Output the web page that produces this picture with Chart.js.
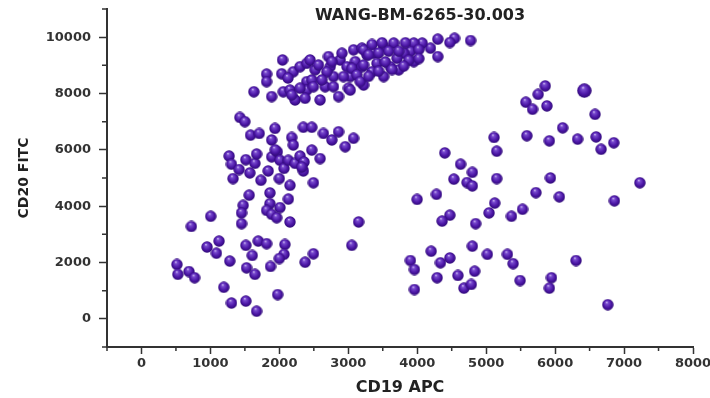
<!DOCTYPE html>
<html>
<head>
<meta charset="utf-8">
<script src="https://cdn.jsdelivr.net/npm/chart.js@4/dist/chart.umd.min.js"></script>
<style>
  html, body { margin: 0; padding: 0; background: #fff; }
  #wrap { width: 710px; height: 398px; position: relative; }
</style>
</head>
<body>
<div id="wrap"><canvas id="cd-chart"></canvas></div>
<script>
// values: [CD19 APC, CD20 FITC]
const upperCluster = [
  [2046, 9190], [1815, 8690], [1815, 8420], [1630, 8060], [1888, 7890], [2033, 8700],
  [2057, 8060], [2154, 8120], [2227, 7770], [2202, 8770], [2125, 8550], [2300, 8950],
  [2397, 9070], [2445, 9190], [2518, 8840], [2397, 8420], [2470, 8480], [2397, 8120],
  [2494, 8240], [2591, 7770], [2664, 8240], [2712, 9310], [2737, 8950], [2785, 8600],
  [2858, 7890], [2882, 9190], [2907, 9430], [2980, 8950], [3002, 8190], [3076, 9550],
  [3028, 8600], [3100, 9130], [2785, 8240], [2567, 9010], [3198, 9610], [3270, 9370],
  [2761, 9130], [2688, 8770], [3052, 8890], [3198, 8950], [2616, 8480], [2930, 8600],
  [3124, 8660], [3222, 8300], [2179, 7950], [2373, 7830], [2300, 8190],
  [4774, 9880], [4541, 9960], [4473, 9810], [4298, 9930], [4298, 9310], [4192, 9610],
  [4071, 9790], [3950, 9790], [3901, 9490], [3950, 9130], [3804, 9430], [3707, 9250],
  [3731, 8840], [3659, 9790], [3513, 9670], [3513, 8600], [3610, 8950], [3367, 9430],
  [3416, 9070], [3343, 8770], [3222, 9550], [3222, 9010], [3173, 8420], [3028, 8120],
  [3343, 9740], [3489, 9800], [3828, 9800], [3294, 9380], [3440, 9440], [3586, 9500],
  [3731, 9500], [4023, 9560], [3537, 9120], [3877, 9180], [4023, 9240], [3440, 8790],
  [3634, 8850], [3804, 8970], [3294, 8610]
];

const middleCluster = [
  [1427, 7150], [1499, 7000], [1582, 6520], [1708, 6580], [1936, 6760], [1888, 6350],
  [2179, 6440], [2202, 6170], [2348, 6800], [2470, 6800], [2639, 6580], [2858, 6640],
  [2761, 6350], [2955, 6110], [3076, 6410], [2470, 5990], [2591, 5690], [1271, 5780],
  [1305, 5490], [1416, 5300], [1514, 5650], [1645, 5520], [1670, 5850], [1572, 5180],
  [1328, 4980], [1732, 4920], [1838, 5250], [1888, 5750], [1970, 5930], [2009, 5630],
  [2067, 5340], [1999, 4980], [2154, 4740], [2130, 5630], [2227, 5520], [2300, 5780],
  [2358, 5570], [2348, 5250], [2324, 5390], [2494, 4830], [1562, 4390], [1863, 4470],
  [2130, 4250], [1940, 6000]
];

const lowerCluster = [
  [1475, 4030], [1451, 3760], [1451, 3380], [1863, 4090], [2009, 3950], [1815, 3850],
  [1888, 3710], [1961, 3590], [2154, 3440], [1004, 3640], [723, 3280], [1125, 2760],
  [951, 2550], [1087, 2330], [1281, 2050], [1514, 2610], [1693, 2760], [1815, 2670],
  [1606, 2250], [1524, 1810], [1645, 1580], [2081, 2640], [2067, 2290], [1999, 2140],
  [1872, 1860], [2373, 2010], [2494, 2310], [514, 1930], [528, 1580], [689, 1680],
  [771, 1460], [1194, 1120], [1305, 560], [1514, 630], [1670, 270], [1975, 860],
  [3051, 2610], [3149, 3440]
];

const rightCluster = [
  [5856, 8270], [5754, 7970], [5575, 7690], [5672, 7440], [5881, 7560], [6579, 7260],
  [6109, 6780], [5590, 6500], [5916, 6320], [6326, 6380], [6594, 6460], [6667, 6020],
  [6851, 6250], [5114, 6440], [5153, 5950], [4400, 5890], [4629, 5490], [4799, 5200],
  [4531, 4960], [4722, 4840], [4799, 4720], [5153, 4980], [5932, 5000], [7229, 4830],
  [5721, 4480], [6061, 4330], [3998, 4240], [4279, 4420], [6860, 4190], [5124, 4110],
  [5527, 3890], [5041, 3760], [5367, 3640], [4473, 3680], [4361, 3470], [4847, 3380],
  [4202, 2400], [4799, 2580], [5017, 2290], [5308, 2290], [5390, 1960], [3901, 2070],
  [3959, 1750], [4337, 1990], [4473, 2160], [6303, 2070], [4288, 1460], [4590, 1540],
  [4833, 1690], [5492, 1360], [5947, 1460], [4677, 1090], [4784, 1220], [3959, 1040],
  [5916, 1090], [6764, 500]
];

const bigPoint = [[6424, 8100]];

const xMajor = [0, 1000, 2000, 3000, 4000, 5000, 6000, 7000, 8000];
const xMinor = [-500, 500, 1500, 2500, 3500, 4500, 5500, 6500, 7500];
const yMajor = [0, 2000, 4000, 6000, 8000, 10000];
const yMinor = [-1000, 1000, 3000, 5000, 7000, 9000, 11000];

const titleText = 'WANG-BM-6265-30.003';
const axisColor = '#333333';

// little shaded ball used as point style
const makeBall = (d) => {
    const c = document.createElement('canvas');
    c.width = d; c.height = d;
    const g = c.getContext('2d');
    const r = d / 2;
    const grad = g.createRadialGradient(r * 0.8, r * 0.55, 0, r, r, r);
    grad.addColorStop(0, '#e2d6f8');
    grad.addColorStop(0.22, '#7a4cd0');
    grad.addColorStop(0.65, '#4c16a6');
    grad.addColorStop(1, '#2c0872');
    g.fillStyle = grad;
    g.beginPath();
    g.arc(r, r, r - 0.3, 0, Math.PI * 2);
    g.fill();
    return c;
};

const toPoints = (arr) => arr.map(p => ({ x: p[0], y: p[1] }));
const allPoints = [].concat(upperCluster, middleCluster, lowerCluster, rightCluster);

// minor ticks + title, drawn on top
const extrasPlugin = {
    id: 'extras',
    afterDraw(chart) {
        const ctx = chart.ctx;
        const xs = chart.scales.x;
        const ys = chart.scales.y;
        const area = chart.chartArea;
        ctx.save();
        ctx.strokeStyle = axisColor;
        ctx.lineWidth = 1.5;
        ctx.beginPath();
        xMinor.forEach(v => {
            const px = xs.getPixelForValue(v);
            ctx.moveTo(px, area.bottom);
            ctx.lineTo(px, area.bottom + 4);
        });
        yMinor.forEach(v => {
            const py = ys.getPixelForValue(v);
            ctx.moveTo(area.left, py);
            ctx.lineTo(area.left - 5, py);
        });
        ctx.stroke();

        ctx.fillStyle = '#222';
        ctx.font = 'bold 16px "DejaVu Sans"';
        ctx.textAlign = 'center';
        ctx.textBaseline = 'middle';
        ctx.fillText(titleText, 420, 16);
        ctx.restore();
    }
};

const tickFont = { family: 'DejaVu Sans', size: 13, weight: 'bold' };
const plainNumber = (v) => String(v);

new Chart(document.getElementById('cd-chart'), {
    type: 'scatter',
    data: {
        datasets: [
            {
                data: toPoints(allPoints),
                pointStyle: makeBall(12),
                pointRadius: 6,
                pointHoverRadius: 6
            },
            {
                data: toPoints(bigPoint),
                pointStyle: makeBall(15),
                pointRadius: 7,
                pointHoverRadius: 7
            }
        ]
    },
    options: {
        responsive: true,
        maintainAspectRatio: false,
        animation: false,
        layout: { padding: { left: 0, right: 17, top: 9, bottom: 0 } },
        plugins: {
            legend: { display: false },
            tooltip: { enabled: false }
        },
        scales: {
            x: {
                type: 'linear',
                min: -500,
                max: 8000,
                afterBuildTicks: (scale) => { scale.ticks = xMajor.map(v => ({ value: v })); },
                afterFit: (scale) => {
                    scale.height = 51;
                    scale.paddingLeft = 0;
                    scale.paddingRight = 0;
                },
                border: { display: true, color: axisColor, width: 2 },
                grid: { drawOnChartArea: false, tickLength: 7, tickColor: axisColor, tickWidth: 1.5 },
                ticks: { color: '#333', font: tickFont, padding: 2, maxRotation: 0, callback: plainNumber },
                title: {
                    display: true,
                    text: 'CD19 APC',
                    color: '#222',
                    font: { family: 'DejaVu Sans', size: 16, weight: 'bold' },
                    padding: { top: 0, bottom: 1 }
                }
            },
            y: {
                type: 'linear',
                min: -1000,
                max: 11000,
                afterBuildTicks: (scale) => { scale.ticks = yMajor.map(v => ({ value: v })); },
                afterFit: (scale) => {
                    scale.width = 107;
                    scale.paddingTop = 0;
                    scale.paddingBottom = 0;
                },
                border: { display: true, color: axisColor, width: 2 },
                grid: { drawOnChartArea: false, tickLength: 8, tickColor: axisColor, tickWidth: 1.5 },
                ticks: { color: '#333', font: tickFont, padding: 8, callback: plainNumber },
                title: {
                    display: true,
                    text: 'CD20 FITC',
                    color: '#222',
                    font: { family: 'DejaVu Sans', size: 14, weight: 'bold' },
                    padding: { top: 16, bottom: 0 }
                }
            }
        }
    },
    plugins: [extrasPlugin]
});
</script>
</body>
</html>
